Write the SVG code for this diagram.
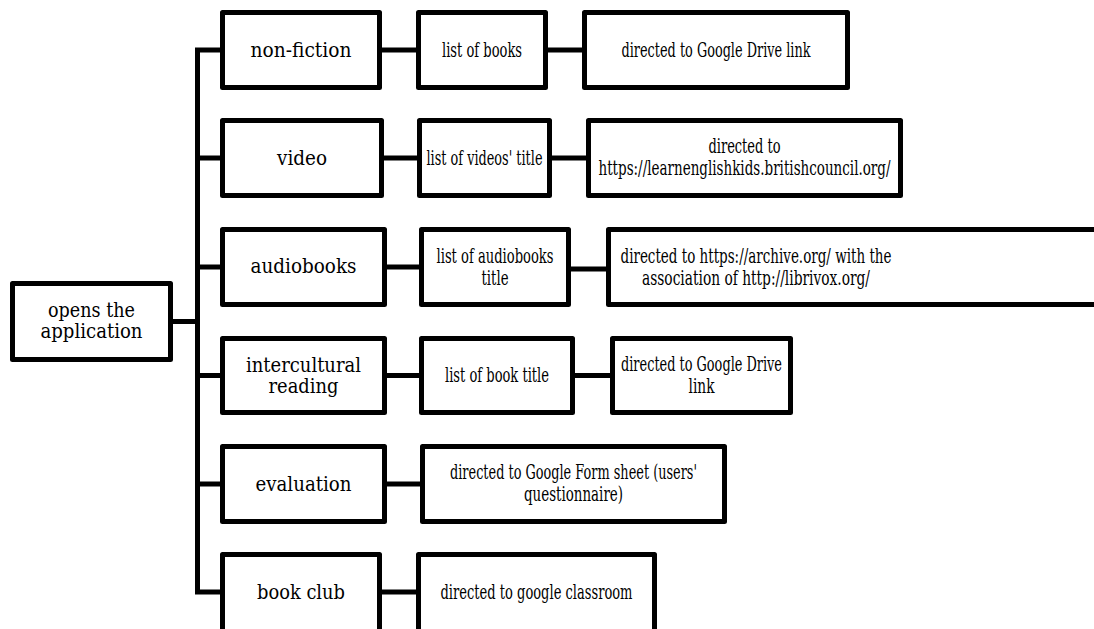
<svg xmlns="http://www.w3.org/2000/svg" width="1094" height="629" viewBox="0 0 1094 629">
<style>
.box{fill:#fff;stroke:#000;stroke-width:5;stroke-linejoin:round}
.ln{fill:none;stroke:#000;stroke-width:5;stroke-linejoin:miter}
.t{font-family:"DejaVu Serif","Liberation Serif",serif;font-size:19.5px;fill:#000;text-anchor:middle}
.c{font-family:"DejaVu Serif","Liberation Serif",serif;font-size:20px;fill:#000;text-anchor:middle}
</style>
<rect width="1094" height="629" fill="#fff"/>
<g id="connectors">
<path class="ln" d="M222,50 H197.5 V592 H222"/>
<path class="ln" d="M197.5,158 H222 M197.5,267 H222 M197.5,375.5 H222 M197.5,484 H222"/>
<path class="ln" d="M170.5,321.5 H197.5"/>
<path class="ln" d="M379.5,50 H418.5 M545.5,50 H584.5"/>
<path class="ln" d="M381.5,158 H419.5 M549.5,158 H588.5"/>
<path class="ln" d="M384.5,267 H421.5 M568.5,269 H608.5"/>
<path class="ln" d="M384.5,375.5 H421.5 M572.5,375.5 H612.5"/>
<path class="ln" d="M384.5,484 H422.5"/>
<path class="ln" d="M379.5,592 H418.5"/>
</g>
<g id="opens">
<rect class="box" x="12.5" y="283.5" width="158" height="76"/>
<text class="t" x="91.5" y="317" textLength="87" lengthAdjust="spacingAndGlyphs">opens the</text>
<text class="t" x="91.5" y="338" textLength="102" lengthAdjust="spacingAndGlyphs">application</text>
</g>
<g id="nonfiction">
<rect class="box" x="222.5" y="12.5" width="157" height="75"/>
<text class="t" x="301" y="57" textLength="101" lengthAdjust="spacingAndGlyphs">non-fiction</text>
</g>
<g id="video">
<rect class="box" x="222.5" y="120.5" width="159" height="75"/>
<text class="t" x="302" y="165" textLength="50" lengthAdjust="spacingAndGlyphs">video</text>
</g>
<g id="audiobooks">
<rect class="box" x="222.5" y="229.5" width="162" height="75"/>
<text class="t" x="303.5" y="273" textLength="106" lengthAdjust="spacingAndGlyphs">audiobooks</text>
</g>
<g id="intercultural">
<rect class="box" x="222.5" y="338.5" width="162" height="74"/>
<text class="t" x="303.5" y="372" textLength="115" lengthAdjust="spacingAndGlyphs">intercultural</text>
<text class="t" x="303.5" y="393" textLength="70" lengthAdjust="spacingAndGlyphs">reading</text>
</g>
<g id="evaluation">
<rect class="box" x="222.5" y="446.5" width="162" height="75"/>
<text class="t" x="303.5" y="491" textLength="96" lengthAdjust="spacingAndGlyphs">evaluation</text>
</g>
<g id="bookclub">
<rect class="box" x="222.5" y="554.5" width="157" height="90"/>
<text class="t" x="301" y="599" textLength="88" lengthAdjust="spacingAndGlyphs">book club</text>
</g>
<g id="listbooks">
<rect class="box" x="418.5" y="12.5" width="127" height="75"/>
<text class="c" x="482" y="57" textLength="80" lengthAdjust="spacingAndGlyphs">list of books</text>
</g>
<g id="gdrive1">
<rect class="box" x="584.5" y="12.5" width="263" height="75"/>
<text class="c" x="716" y="57" textLength="189" lengthAdjust="spacingAndGlyphs">directed to Google Drive link</text>
</g>
<g id="listvideos">
<rect class="box" x="419.5" y="120.5" width="130" height="75"/>
<text class="c" x="484.5" y="165" textLength="116" lengthAdjust="spacingAndGlyphs">list of videos' title</text>
</g>
<g id="learnenglish">
<rect class="box" x="588.5" y="120.5" width="312" height="75"/>
<text class="c" x="744.5" y="153" textLength="72" lengthAdjust="spacingAndGlyphs">directed to</text>
<text class="c" x="744.5" y="175" textLength="292" lengthAdjust="spacingAndGlyphs">https://learnenglishkids.britishcouncil.org/</text>
</g>
<g id="listaudio">
<rect class="box" x="421.5" y="229.5" width="147" height="75"/>
<text class="c" x="495" y="263" textLength="117" lengthAdjust="spacingAndGlyphs">list of audiobooks</text>
<text class="c" x="495" y="285" textLength="27" lengthAdjust="spacingAndGlyphs">title</text>
</g>
<g id="archive">
<rect class="box" x="608.5" y="229.5" width="500" height="75"/>
<text class="c" x="756" y="263" textLength="271" lengthAdjust="spacingAndGlyphs">directed to https://archive.org/ with the</text>
<text class="c" x="756" y="285" textLength="228" lengthAdjust="spacingAndGlyphs">association of http://librivox.org/</text>
</g>
<g id="listbooktitle">
<rect class="box" x="421.5" y="338.5" width="151" height="74"/>
<text class="c" x="497" y="382" textLength="104" lengthAdjust="spacingAndGlyphs">list of book title</text>
</g>
<g id="gdrive2">
<rect class="box" x="612.5" y="338.5" width="178" height="74"/>
<text class="c" x="701.5" y="371" textLength="161" lengthAdjust="spacingAndGlyphs">directed to Google Drive</text>
<text class="c" x="701.5" y="393" textLength="26" lengthAdjust="spacingAndGlyphs">link</text>
</g>
<g id="gform">
<rect class="box" x="422.5" y="446.5" width="302" height="75"/>
<text class="c" x="573.5" y="479" textLength="247" lengthAdjust="spacingAndGlyphs">directed to Google Form sheet (users'</text>
<text class="c" x="573.5" y="501" textLength="99" lengthAdjust="spacingAndGlyphs">questionnaire)</text>
</g>
<g id="classroom">
<rect class="box" x="418.5" y="554.5" width="236" height="90"/>
<text class="c" x="536.5" y="599" textLength="192" lengthAdjust="spacingAndGlyphs">directed to google classroom</text>
</g>
</svg>
